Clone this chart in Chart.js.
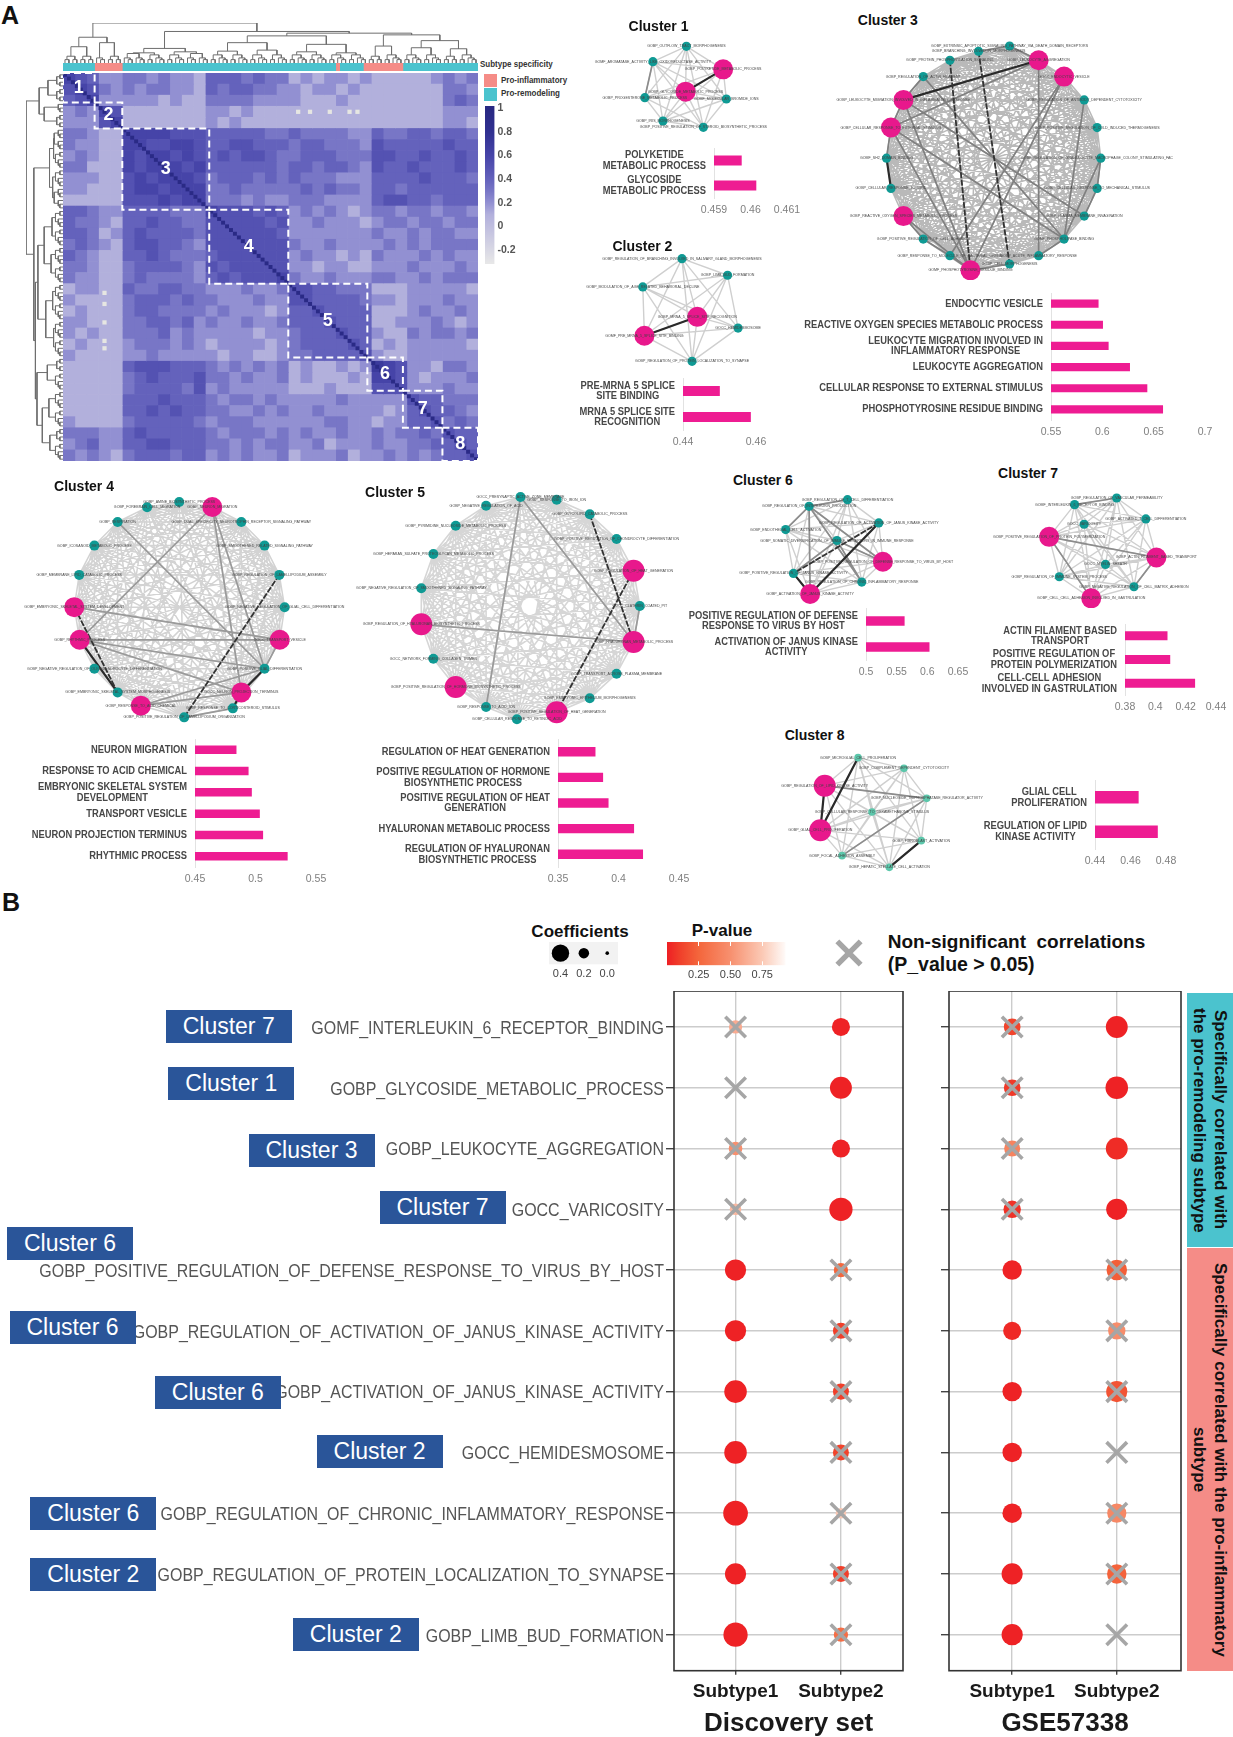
<!DOCTYPE html>
<html>
<head>
<meta charset="utf-8">
<title>Cluster enrichment and subtype correlations</title>
<script src="https://cdn.jsdelivr.net/npm/chart.js@4/dist/chart.umd.js"></script>
<style>
html, body { margin: 0; padding: 0; background: #fff; }
body { position: relative; width: 1233px; height: 1737px; overflow: hidden; font-family: "Liberation Sans", Arial, sans-serif; }
canvas { position: absolute; }
.t { position: absolute; white-space: pre; line-height: 1; }
.box { position: absolute; width: 126px; height: 33px; line-height: 33px; background: #2A5599; color: #fff; font-size: 23px; text-align: center; }
.strip { position: absolute; left: 1187px; width: 46px; writing-mode: vertical-rl; text-align: center; font-weight: bold; font-size: 17px; line-height: 21px; color: #111; display: flex; align-items: center; justify-content: center; }
</style>
</head>
<body>
<script>
// ---- heatmap data: correlations in tenths, 3 x 3 term bins, lower triangle per row, read by eye
const heatRows = [
  "6", "56", "456", "23 26", "22 25 6",
  "332 11 6", "322 11 66", "232 11 656", "331 11 6566", "222 11 56566", "221 11 566566", "111 11 5556566",
  "443 22 4444333 6", "433 21 4454433 55", "443 12 4544443 555", "343 21 4554432 5555", "432 11 4454333 45555", "332 11 3444432 545555", "322 11 3433332 4545556",
  "122 11 4334433 2223223 5", "211 11 3444343 3222322 55", "121 11 3443333 2322212 445", "221 11 3344342 3223223 4445", "212 11 3334232 2222122 34445", "121 11 2333232 1222212 344445", "211 11 2232222 2122112 3344445",
  "111 11 4555444 3232323 1211212 7", "111 11 3454445 3323223 1211121 66", "111 11 3444435 2322222 1112111 555",
  "111 11 4445444 3233232 2222322 222 5", "111 11 4454544 3322323 2232222 212 45", "211 11 3444443 2333222 2223322 122 445",
  "333 22 4544444 3233323 2322322 323 343 5", "234 22 4455444 3323233 2231222 322 334 45", "323 21 3444344 2323223 1222312 232 323 445"
];
const binCells = 3;
const clusterSizes = [8, 7, 22, 20, 20, 9, 10, 9];
const paleCells = [[59, 10], [62, 10], [67, 10], [72, 10], [74, 10], [10, 59], [10, 62], [10, 67], [10, 72], [10, 74]];
const annotationCounts = [8, 7, 54, 1, 6, 10, 19];
const annotationTypes = ["Pro-remodeling", "Pro-inflammatory", "Pro-remodeling", "Pro-inflammatory", "Pro-remodeling", "Pro-inflammatory", "Pro-remodeling"];
const colorbarTicks = [1, 0.8, 0.6, 0.4, 0.2, 0, -0.2];
// dendrogram: [height, left, right], a bare number is a small group of leaves
const termTree = [118,
  [76, [48, 4, 4], [60, 3, 4]],
  [93, [43, [30, 6, 5], [33, 5, 6]],
    [88, [80, [60, [35, 5, 5], [38, 5, 5]], [55, [33, 5, 5], [30, 5, 5]]],
      [83, [50, 4, 5], [66, [45, 5, 5], [42, 4, 5]]]]]];
const groupHeights = [0, 0, 10, 15, 20, 24, 28];

// ---- enrichment bars
const c1BarLabels = [["POLYKETIDE", "METABOLIC PROCESS"], ["GLYCOSIDE", "METABOLIC PROCESS"]];
const c1BarValues = [0.45975, 0.46015];
const c1BarTicks = [0.459, 0.46, 0.461];
const c2BarLabels = [["PRE-MRNA 5 SPLICE", "SITE BINDING"], ["MRNA 5 SPLICE SITE", "RECOGNITION"]];
const c2BarValues = [0.45, 0.4585];
const c2BarTicks = [0.44, 0.46];
const c3BarLabels = [["ENDOCYTIC VESICLE"], ["REACTIVE OXYGEN SPECIES METABOLIC PROCESS"], ["LEUKOCYTE MIGRATION INVOLVED IN", "INFLAMMATORY RESPONSE"], ["LEUKOCYTE AGGREGATION"], ["CELLULAR RESPONSE TO EXTERNAL STIMULUS"], ["PHOSPHOTYROSINE RESIDUE BINDING"]];
const c3BarValues = [0.596, 0.6003, 0.6058, 0.6266, 0.6435, 0.6588];
const c3BarTicks = [0.55, 0.6, 0.65, 0.7];
const c4BarLabels = [["NEURON MIGRATION"], ["RESPONSE TO ACID CHEMICAL"], ["EMBRYONIC SKELETAL SYSTEM", "DEVELOPMENT"], ["TRANSPORT VESICLE"], ["NEURON PROJECTION TERMINUS"], ["RHYTHMIC PROCESS"]];
const c4BarValues = [0.484, 0.494, 0.4967, 0.5033, 0.506, 0.5263];
const c4BarTicks = [0.45, 0.5, 0.55];
const c5BarLabels = [["REGULATION OF HEAT GENERATION"], ["POSITIVE REGULATION OF HORMONE", "BIOSYNTHETIC PROCESS"], ["POSITIVE REGULATION OF HEAT", "GENERATION"], ["HYALURONAN METABOLIC PROCESS"], ["REGULATION OF HYALURONAN", "BIOSYNTHETIC PROCESS"]];
const c5BarValues = [0.3807, 0.387, 0.3915, 0.4126, 0.42];
const c5BarTicks = [0.35, 0.4, 0.45];
const c6BarLabels = [["POSITIVE REGULATION OF DEFENSE", "RESPONSE TO VIRUS BY HOST"], ["ACTIVATION OF JANUS KINASE", "ACTIVITY"]];
const c6BarValues = [0.5624, 0.603];
const c6BarTicks = [0.5, 0.55, 0.6, 0.65];
const c7BarLabels = [["ACTIN FILAMENT BASED", "TRANSPORT"], ["POSITIVE REGULATION OF", "PROTEIN POLYMERIZATION"], ["CELL-CELL ADHESION", "INVOLVED IN GASTRULATION"]];
const c7BarValues = [0.4078, 0.4096, 0.426];
const c7BarTicks = [0.38, 0.4, 0.42, 0.44];
const c8BarLabels = [["GLIAL CELL", "PROLIFERATION"], ["REGULATION OF LIPID", "KINASE ACTIVITY"]];
const c8BarValues = [0.4644, 0.4752];
const c8BarTicks = [0.44, 0.46, 0.48];

// ---- networks: node positions, hubs are the pink nodes
// strong edges are [a, b, level]: 1 mid grey, 2 dark, 3 dark dashed
const c1X = [213, 130, 304, 211, 110, 312, 155, 255];
const c1Y = [138, 184, 207, 274, 292, 296, 362, 381];
const c1Names = ["GOBP_OUTFLOW_TRACT_MORPHOGENESIS", "GOMF_AROMATASE_ACTIVITY_LIKE_OXIDOREDUCTASE_ACTIVITY", "GOBP_POLYKETIDE_METABOLIC_PROCESS", "GOBP_GLYCOSIDE_METABOLIC_PROCESS", "GOBP_PROGESTERONE_METABOLIC_PROCESS", "GOMF_MOLECULAR_BROMIDE_IONS", "GOBP_IRIS_MORPHOGENESIS", "GOBP_POSITIVE_REGULATION_OF_STEROID_BIOSYNTHETIC_PROCESS"];
const c1Hubs = [2, 3];
const c1Strong = [[2, 3, 2], [1, 4, 1]];

const c2X = [202, 315, 105, 240, 341, 109, 227];
const c2Y = [775, 825, 860, 950, 984, 1007, 1084];
const c2Names = ["GOBP_REGULATION_OF_BRANCHING_INVOLVED_IN_SALIVARY_GLAND_MORPHOGENESIS", "GOBP_LIMB_BUD_FORMATION", "GOBP_MODULATION_OF_AGE_RELATED_BEHAVIORAL_DECLINE", "GOBP_MRNA_5_SPLICE_SITE_RECOGNITION", "GOCC_HEMIDESMOSOME", "GOMF_PRE_MRNA_5_SPLICE_SITE_BINDING", "GOBP_REGULATION_OF_PROTEIN_LOCALIZATION_TO_SYNAPSE"];
const c2Hubs = [3, 5];
const c2Strong = [[3, 5, 2]];

const c3X = [1015, 1087, 1150, 1200, 1232, 1241, 1232, 1200, 1150, 1087, 1015, 918, 867, 801, 752, 721, 710, 721, 752, 801, 867, 938];
const c3Y = [137, 180, 229, 299, 382, 474, 565, 648, 717, 767, 792, 811, 767, 717, 648, 565, 474, 382, 299, 229, 180, 153];
const c3Names = ["GOBP_EXTRINSIC_APOPTOTIC_SIGNALING_PATHWAY_VIA_DEATH_DOMAIN_RECEPTORS", "GOBP_LEUKOCYTE_AGGREGATION", "GOCC_ENDOCYTIC_VESICLE", "GOBP_REGULATION_OF_ANTIBODY_DEPENDENT_CYTOTOXICITY", "GOBP_POSITIVE_REGULATION_OF_COLD_INDUCED_THERMOGENESIS", "GOBP_REGULATION_OF_GRANULOCYTE_MACROPHAGE_COLONY_STIMULATING_FACTOR", "GOBP_CELLULAR_RESPONSE_TO_MECHANICAL_STIMULUS", "GOBP_PLASMA_MEMBRANE_INVAGINATION", "GOMF_PHOSPHOLIPASE_BINDING", "GOBP_ACUTE_INFLAMMATORY_RESPONSE", "GOBP_CELL_MORPHOGENESIS", "GOMF_PHOSPHOTYROSINE_RESIDUE_BINDING", "GOBP_RESPONSE_TO_MOLECULE_OF_BACTERIAL_ORIGIN", "GOBP_POSITIVE_REGULATION_OF_CELL_ADHESION", "GOBP_REACTIVE_OXYGEN_SPECIES_METABOLIC_PROCESS", "GOBP_CELLULAR_RESPONSE_TO_LIPID", "GOMF_SH2_DOMAIN_BINDING", "GOBP_CELLULAR_RESPONSE_TO_EXTERNAL_STIMULUS", "GOBP_LEUKOCYTE_MIGRATION_INVOLVED_IN_INFLAMMATORY_RESPONSE", "GOBP_REGULATION_OF_ACTIN_FILAMENT", "GOBP_PROTEIN_PHOSPHORYLATION_SIGNALING", "GOBP_BRANCHING_INVOLVED_IN_MORPHOGENESIS"];
const c3Hubs = [1, 2, 11, 14, 17, 18];
const c3Strong = [[1, 18, 2], [16, 15, 2], [20, 11, 3], [21, 10, 3], [11, 10, 1], [1, 9, 1], [2, 12, 1], [1, 17, 1], [5, 8, 1], [18, 11, 1], [17, 11, 1], [14, 11, 1], [3, 8, 1], [2, 11, 1], [8, 9, 1], [5, 6, 1], [6, 7, 1], [0, 21, 1], [0, 1, 1], [19, 18, 1], [18, 17, 1], [17, 16, 1], [14, 13, 1], [13, 12, 1], [12, 11, 1], [17, 8, 1], [18, 7, 1], [19, 8, 1]];

const c4X = [475, 540, 592, 625, 637, 626, 592, 540, 521, 412, 315, 263, 211, 178, 166, 177, 211, 263, 329, 401];
const c4Y = [112, 157, 228, 316, 413, 511, 598, 669, 717, 744, 709, 669, 598, 511, 413, 316, 228, 157, 113, 97];
const c4Names = ["GOBP_NEURON_MIGRATION", "GOBP_DUAL_SPECIFICITY_NEUROTROPHIN_RECEPTOR_SIGNALING_PATHWAY", "GOBP_SMOOTHENED_RELATED_SIGNALING_PATHWAY", "GOBP_REGULATION_OF_LAMELLIPODIUM_ASSEMBLY", "GOBP_NEGATIVE_REGULATION_OF_GLIAL_CELL_DIFFERENTIATION", "GOCC_TRANSPORT_VESICLE", "GOBP_POSITIVE_GLIAL_DIFFERENTIATION", "GOCC_NEURON_PROJECTION_TERMINUS", "GOBP_RESPONSE_TO_CORTICOSTEROID_STIMULUS", "GOBP_POSITIVE_REGULATION_OF_LAMELLIPODIUM_ORGANIZATION", "GOBP_RESPONSE_TO_ACID_CHEMICAL", "GOBP_EMBRYONIC_SKELETAL_SYSTEM_MORPHOGENESIS", "GOBP_NEGATIVE_REGULATION_OF_OLIGODENDROCYTE_DIFFERENTIATION", "GOBP_RHYTHMIC_PROCESS", "GOBP_EMBRYONIC_SKELETAL_SYSTEM_DEVELOPMENT", "GOBP_MEMBRANE_LIPID_CATABOLIC_PROCESS", "GOBP_ICOSANOID_METABOLIC_PROCESS", "GOBP_RESPIRATION", "GOBP_FOREBRAIN_CELL_MIGRATION", "GOBP_AMINE_BIOSYNTHETIC_PROCESS"];
const c4Hubs = [0, 5, 7, 10, 13, 14];
const c4Strong = [[0, 13, 1], [0, 7, 1], [0, 6, 1], [3, 9, 3], [14, 11, 3], [13, 11, 2], [13, 6, 1], [13, 5, 1], [14, 5, 1], [13, 7, 1], [17, 6, 1], [10, 6, 1], [6, 7, 2], [7, 8, 2], [10, 7, 1], [9, 8, 1], [5, 6, 1]];

const c5X = [1165, 1246, 1320, 1380, 1418, 1432, 1418, 1380, 1320, 1246, 1157, 1088, 1020, 970, 943, 943, 970, 1020, 1088];
const c5Y = [81, 89, 133, 207, 302, 408, 516, 611, 685, 727, 748, 711, 651, 566, 463, 355, 252, 167, 107];
const c5Names = ["GOCC_PRESYNAPTIC_ACTIVE_ZONE_MEMBRANE", "GOBP_RESPONSE_TO_IRON_ION", "GOBP_GLYCOLIPID_CATABOLIC_PROCESS", "GOBP_POSITIVE_REGULATION_OF_CHONDROCYTE_DIFFERENTIATION", "GOBP_REGULATION_OF_HEAT_GENERATION", "GOCC_CLATHRIN_COATED_PIT", "GOBP_HYALURONAN_METABOLIC_PROCESS", "GOBP_TRANSPORT_ACROSS_PLASMA_MEMBRANE", "GOBP_EMBRYONIC_EPITHELIUM_MORPHOGENESIS", "GOBP_POSITIVE_REGULATION_OF_HEAT_GENERATION", "GOBP_CELLULAR_RESPONSE_TO_RETINOIC_ACID", "GOBP_RESPONSE_TO_ACID_ION", "GOBP_POSITIVE_REGULATION_OF_HORMONE_BIOSYNTHETIC_PROCESS", "GOCC_NETWORK_FORMING_COLLAGEN_TRIMER", "GOBP_REGULATION_OF_HYALURONAN_BIOSYNTHETIC_PROCESS", "GOBP_NEGATIVE_REGULATION_OF_SMOOTHENED_SIGNALING_PATHWAY", "GOBP_HEPARAN_SULFATE_PROTEOGLYCAN_METABOLIC_PROCESS", "GOBP_PYRIMIDINE_NUCLEOSIDE_METABOLIC_PROCESS", "GOBP_NEGATIVE_REGULATION_OF_ACID"];
const c5Hubs = [4, 6, 9, 12, 14];
const c5Strong = [[0, 11, 1], [0, 6, 1], [2, 6, 3], [4, 9, 3], [14, 6, 1], [5, 6, 1]];

const c6X = [322, 435, 527, 253, 404, 539, 276, 477, 325];
const c6Y = [138, 118, 188, 208, 241, 305, 340, 366, 402];
const c6Names = ["GOBP_REGULATION_OF_INTERLEUKIN_PRODUCTION", "GOBP_REGULATION_OF_T_CELL_DIFFERENTIATION", "GOBP_REGULATION_OF_ACTIVATION_OF_JANUS_KINASE_ACTIVITY", "GOBP_ENDOTHELIAL_CELL_ACTIVATION", "GOBP_SOMATIC_DIVERSIFICATION_OF_IMMUNE_RECEPTORS_IN_IMMUNE_RESPONSE", "GOBP_POSITIVE_REGULATION_OF_DEFENSE_RESPONSE_TO_VIRUS_BY_HOST", "GOBP_POSITIVE_REGULATION_OF_JANUS_KINASE_ACTIVITY", "GOBP_REGULATION_OF_CHRONIC_INFLAMMATORY_RESPONSE", "GOBP_ACTIVATION_OF_JANUS_KINASE_ACTIVITY"];
const c6Hubs = [5, 8];
const c6Strong = [[2, 6, 3], [2, 8, 2], [6, 8, 2], [0, 7, 1], [0, 5, 1], [0, 8, 1], [1, 0, 1], [3, 0, 1], [4, 5, 1], [4, 7, 1], [6, 4, 1]];

const c7X = [1225, 1101, 1311, 1129, 1026, 1342, 1192, 1056, 1276, 1150];
const c7Y = [114, 134, 177, 193, 231, 293, 314, 351, 381, 416];
const c7Names = ["GOBP_REGULATION_OF_VASCULAR_PERMEABILITY", "GOMF_INTERLEUKIN_6_RECEPTOR_BINDING", "GOBP_ACTIVATED_T_CELL_DIFFERENTIATION", "GOCC_VARICOSITY", "GOBP_POSITIVE_REGULATION_OF_PROTEIN_POLYMERIZATION", "GOBP_ACTIN_FILAMENT_BASED_TRANSPORT", "GOCC_MYELIN_SHEATH", "GOBP_REGULATION_OF_IMMUNE_SYSTEM_PROCESS", "GOBP_NEGATIVE_REGULATION_OF_CELL_MATRIX_ADHESION", "GOBP_CELL_CELL_ADHESION_INVOLVED_IN_GASTRULATION"];
const c7Hubs = [4, 5, 9];
const c7Strong = [[4, 5, 1], [4, 9, 1], [5, 8, 1], [1, 0, 1]];

const c8X = [466, 601, 368, 668, 507, 355, 652, 419, 558];
const c8Y = [893, 925, 977, 1015, 1056, 1111, 1142, 1187, 1222];
const c8Names = ["GOBP_MICROGLIAL_CELL_PROLIFERATION", "GOBP_COMPLEMENT_DEPENDENT_CYTOTOXICITY", "GOBP_REGULATION_OF_LIPID_KINASE_ACTIVITY", "GOBP_NUCLEOSIDE_TRIPHOSPHATASE_REGULATOR_ACTIVITY", "GOBP_CELLULAR_RESPONSE_TO_DEXAMETHASONE_STIMULUS", "GOBP_GLIAL_CELL_PROLIFERATION", "GOBP_FIBROBLAST_ACTIVATION", "GOBP_FOCAL_ADHESION_ASSEMBLY", "GOBP_HEPATIC_STELLATE_CELL_ACTIVATION"];
const c8Hubs = [2, 5];
const c8Strong = [[6, 8, 2], [2, 5, 2], [0, 5, 2], [2, 3, 1], [3, 7, 1]];

// ---- dot plots
const terms = ["GOMF_INTERLEUKIN_6_RECEPTOR_BINDING", "GOBP_GLYCOSIDE_METABOLIC_PROCESS", "GOBP_LEUKOCYTE_AGGREGATION", "GOCC_VARICOSITY", "GOBP_POSITIVE_REGULATION_OF_DEFENSE_RESPONSE_TO_VIRUS_BY_HOST", "GOBP_REGULATION_OF_ACTIVATION_OF_JANUS_KINASE_ACTIVITY", "GOBP_ACTIVATION_OF_JANUS_KINASE_ACTIVITY", "GOCC_HEMIDESMOSOME", "GOBP_REGULATION_OF_CHRONIC_INFLAMMATORY_RESPONSE", "GOBP_REGULATION_OF_PROTEIN_LOCALIZATION_TO_SYNAPSE", "GOBP_LIMB_BUD_FORMATION"];
const termClusters = ["Cluster 7", "Cluster 1", "Cluster 3", "Cluster 7", "Cluster 6", "Cluster 6", "Cluster 6", "Cluster 2", "Cluster 6", "Cluster 2", "Cluster 2"];
const subtypes = ["Subtype1", "Subtype2"];
const discoveryS1Coef = [0.28, 0, 0.29, 0.23, 0.51, 0.51, 0.55, 0.55, 0.61, 0.51, 0.6];
const discoveryS1P = [0.62, 0.95, 0.5, 0.68, 0.01, 0.01, 0.01, 0.01, 0.01, 0.01, 0.01];
const discoveryS2Coef = [0.42, 0.53, 0.42, 0.57, 0.31, 0.36, 0.36, 0.36, 0.2, 0.36, 0.31];
const discoveryS2P = [0.01, 0.01, 0.01, 0.01, 0.25, 0.1, 0.1, 0.12, 0.75, 0.1, 0.3];
const gseS1Coef = [0.38, 0.38, 0.36, 0.4, 0.46, 0.42, 0.46, 0.46, 0.46, 0.51, 0.51];
const gseS1P = [0.12, 0.08, 0.42, 0.06, 0.01, 0.03, 0.01, 0.01, 0.01, 0.01, 0.01];
const gseS2Coef = [0.53, 0.55, 0.53, 0.51, 0.49, 0.4, 0.51, 0, 0.45, 0.46, 0];
const gseS2P = [0.01, 0.01, 0.04, 0.01, 0.22, 0.48, 0.18, 0.95, 0.45, 0.24, 0.95];
const coefLegend = [0.4, 0.2, 0];
const pLegendTicks = [0.25, 0.5, 0.75];
const pThreshold = 0.05;

const PINK = "#EE1C92", TEAL = "#0F9A94", SANS = '"Liberation Sans", Arial, sans-serif';
Chart.defaults.animation = false;
Chart.defaults.responsive = false;
Chart.defaults.font.family = SANS;
Chart.defaults.layout.autoPadding = false;
Chart.defaults.plugins.legend.display = false;
Chart.defaults.plugins.tooltip.enabled = false;

function addCanvas(left, top, w, h) {
  const c = document.createElement("canvas");
  c.width = Math.round(w);
  c.height = Math.round(h);
  c.style.left = Math.round(left) + "px";
  c.style.top = Math.round(top) + "px";
  document.body.appendChild(c);
  return c;
}
function addText(text, x, y, size, opts) {
  const o = opts || {};
  const d = document.createElement("div");
  d.className = "t";
  d.textContent = text;
  d.style.left = x + "px";
  d.style.top = y + "px";
  d.style.fontSize = size + "px";
  d.style.fontWeight = o.weight || "bold";
  d.style.color = o.color || "#111";
  d.style.transformOrigin = "left center";
  d.style.transform = o.left ? "translateY(-50%) scaleX(" + (o.k || 1) + ")" : "translate(-50%,-50%)";
  document.body.appendChild(d);
}
function mix(stops, v) {
  if (v <= stops[0][0]) return stops[0][1];
  for (let i = 1; i < stops.length; i++) {
    if (v <= stops[i][0]) {
      const a = stops[i - 1], b = stops[i], f = (v - a[0]) / (b[0] - a[0]);
      const ch = k => Math.round(a[1][k] + (b[1][k] - a[1][k]) * f);
      return [ch(0), ch(1), ch(2)];
    }
  }
  return stops[stops.length - 1][1];
}
const heatStops = [[-0.32, [232, 232, 232]], [0.1, [178, 176, 220]], [0.2, [146, 144, 210]], [0.3, [120, 118, 198]], [0.4, [100, 98, 188]], [0.5, [84, 82, 178]], [0.6, [70, 68, 168]], [0.8, [48, 48, 144]], [1, [40, 40, 130]]];
const pStops = [[0, [238, 31, 36]], [0.1, [240, 63, 42]], [0.25, [244, 102, 60]], [0.5, [247, 144, 111]], [0.75, [251, 201, 181]], [0.95, [255, 255, 255]]];
const rgb = c => "rgb(" + c.join(",") + ")";
const heatColor = v => rgb(mix(heatStops, v));
const pColor = p => rgb(mix(pStops, p));
const coefRadius = c => 1.8 + 17.25 * c;

function gradientFill(chart, axis, stops, from, to) {
  const s = chart.scales[axis];
  const p0 = s.getPixelForValue(from), p1 = s.getPixelForValue(to);
  const g = axis === "x" ? chart.ctx.createLinearGradient(p0, 0, p1, 0) : chart.ctx.createLinearGradient(0, p0, 0, p1);
  stops.forEach(st => g.addColorStop((st[0] - from) / (to - from), rgb(st[1])));
  return g;
}
// keep the plot box where it was set, labels may hang over its edges
function noMargins(s) {
  s.paddingLeft = 0; s.paddingRight = 0; s.paddingTop = 0; s.paddingBottom = 0;
}
// inline plugins
function notesPlugin(items, font, color) {
  return {
    id: "notes",
    afterDatasetsDraw(chart) {
      const ctx = chart.ctx;
      ctx.save();
      ctx.font = font;
      ctx.fillStyle = color;
      ctx.textAlign = "center";
      ctx.textBaseline = "middle";
      items.forEach(n => ctx.fillText(n.text, chart.scales.x.getPixelForValue(n.x), chart.scales.y.getPixelForValue(n.y)));
      ctx.restore();
    }
  };
}
function framePlugin(stroke, fill) {
  return {
    id: "frame",
    beforeDatasetsDraw(chart) {
      if (!fill) return;
      const a = chart.chartArea;
      chart.ctx.fillStyle = fill;
      chart.ctx.fillRect(a.left, a.top, a.width, a.height);
    },
    afterDatasetsDraw(chart) {
      if (!stroke) return;
      const a = chart.chartArea;
      chart.ctx.strokeStyle = stroke;
      chart.ctx.lineWidth = 1.6;
      chart.ctx.strokeRect(a.left, a.top, a.width, a.height);
    }
  };
}
// axis labels that are squeezed sideways, several lines centred on each other
function blockLabelsPlugin(labels, o) {
  return {
    id: "blockLabels",
    afterDraw(chart) {
      const ctx = chart.ctx, s = chart.scales.y;
      ctx.save();
      ctx.font = o.font;
      ctx.fillStyle = o.color;
      ctx.textAlign = "center";
      ctx.textBaseline = "middle";
      labels.forEach((lines, i) => {
        const w = Math.max(...lines.map(l => ctx.measureText(l).width)) * o.k;
        const cx = chart.chartArea.left - o.gap - w / 2;
        const y0 = s.getPixelForValue(i) - (lines.length - 1) * o.lineH / 2 + (o.dy || 0);
        lines.forEach((l, k) => {
          ctx.save();
          ctx.translate(cx, y0 + k * o.lineH);
          ctx.scale(o.k, 1);
          ctx.fillText(l, 0, 0);
          ctx.restore();
        });
      });
      ctx.restore();
    }
  };
}

// ---- panel A heatmap
const heatLeft = 63.1, heatTop = 73.3, heatW = 414.5, heatH = 387.7, cellCount = 105;
const heatMatrix = heatRows.map(r => r.replace(/ /g, "").split("").map(d => +d / 10));
const heatValue = (r, c) => (c <= r ? heatMatrix[r][c] : heatMatrix[c][r]);

new Chart(addCanvas(heatLeft, heatTop, heatW, heatH), {
  type: "bar",
  data: {
    labels: heatMatrix.map((_, i) => i),
    datasets: heatMatrix.map((_, c) => ({
      data: heatMatrix.map(() => binCells),
      backgroundColor: heatMatrix.map((_, r) => heatColor(heatValue(r, c))),
      barPercentage: 1, categoryPercentage: 1, borderWidth: 0
    }))
  },
  options: {
    indexAxis: "y",
    layout: { padding: 0 },
    scales: {
      x: { display: false, stacked: true, min: 0, max: cellCount },
      y: { display: false, stacked: true }
    }
  }
});

const clusterStarts = clusterSizes.map((_, i) => clusterSizes.slice(0, i).reduce((a, b) => a + b, 0));
const diagonalCells = Array.from({ length: cellCount }, (_, i) => ({ x: i + 0.5, y: i + 0.5 }));
new Chart(addCanvas(heatLeft, heatTop, heatW, heatH), {
  type: "scatter",
  data: {
    datasets: clusterSizes.map((n, i) => {
      const s = clusterStarts[i], e = s + n;
      return {
        data: [{ x: s, y: s }, { x: e, y: s }, { x: e, y: e }, { x: s, y: e }, { x: s, y: s }],
        showLine: true, borderColor: "#fff", borderWidth: 2, borderDash: [7, 4], pointRadius: 0, clip: false
      };
    }).concat([
      { data: diagonalCells, pointStyle: "rect", pointRadius: 2.8, backgroundColor: "#2A2A86", borderWidth: 0 },
      { data: paleCells.map(p => ({ x: p[1] + 0.5, y: p[0] + 0.5 })), pointStyle: "rect", pointRadius: 3, backgroundColor: "#E6E6E2", borderWidth: 0 }
    ])
  },
  options: {
    layout: { padding: 0 },
    scales: {
      x: { display: false, min: 0, max: cellCount },
      y: { display: false, min: 0, max: cellCount, reverse: true }
    }
  },
  plugins: [notesPlugin(clusterSizes.map((n, i) => ({ x: clusterStarts[i] + n / 2, y: clusterStarts[i] + n / 2, text: String(i + 1) })), "bold 18px 'Liberation Sans'", "#fff")]
});

// subtype strip above the heatmap
const subtypeColors = { "Pro-inflammatory": "#F58C87", "Pro-remodeling": "#4BC3CE" };
new Chart(addCanvas(heatLeft, 62.7, heatW, 8.4), {
  type: "bar",
  data: {
    labels: ["subtype"],
    datasets: annotationCounts.map((n, i) => ({ data: [n], backgroundColor: subtypeColors[annotationTypes[i]], barPercentage: 1, categoryPercentage: 1 }))
  },
  options: {
    indexAxis: "y",
    layout: { padding: 0 },
    scales: { x: { display: false, stacked: true, min: 0, max: cellCount }, y: { display: false, stacked: true } }
  }
});

// dendrograms share one tree, top and left
function treePath(node, start, path) {
  let kids;
  if (typeof node === "number") {
    if (node === 1) return { pos: start + 0.5, h: 0, next: start + 1 };
    const half = Math.floor(node / 2);
    kids = [groupHeights[node], half, node - half];
  } else kids = node;
  const a = treePath(kids[1], start, path), b = treePath(kids[2], a.next, path), h = kids[0];
  path.push([a.pos, a.h], [a.pos, h], [b.pos, h], [b.pos, b.h], [NaN, NaN]);
  return { pos: (a.pos + b.pos) / 2, h, next: b.next };
}
const treePoints = [];
treePath(termTree, 0, treePoints);
const treeScales = (flip) => flip
  ? { x: { display: false, min: 0, max: 118, reverse: true }, y: { display: false, min: 0, max: cellCount, reverse: true } }
  : { x: { display: false, min: 0, max: cellCount }, y: { display: false, min: 0, max: 118 } };
function dendrogram(left, top, w, h, flip) {
  new Chart(addCanvas(left, top, w, h), {
    type: "scatter",
    data: { datasets: [{ data: treePoints.map(p => (flip ? { x: p[1], y: p[0] } : { x: p[0], y: p[1] })), showLine: true, spanGaps: false, borderColor: "#6E6E6E", borderWidth: 1, pointRadius: 0 }] },
    options: { layout: { padding: 0 }, scales: treeScales(flip) }
  });
}
dendrogram(heatLeft, 23, heatW, 39.7, false);
dendrogram(26, heatTop, 37.1, heatH, true);

// colour bar
new Chart(addCanvas(484.5, 100, 45, 170), {
  type: "bar",
  data: {
    labels: ["r"],
    datasets: [{
      data: [[-0.319, 1.02]],
      backgroundColor: c => c.chart.chartArea ? gradientFill(c.chart, "y", heatStops, -0.32, 1) : "#88f",
      barPercentage: 1, categoryPercentage: 1
    }]
  },
  options: {
    layout: { padding: { top: 6, bottom: 6 } },
    scales: {
      x: { display: false },
      y: {
        position: "right", min: -0.319, max: 1.02, grid: { display: false, drawTicks: false }, border: { display: false },
        afterFit(s) { s.width = 35.5; noMargins(s); },
        afterBuildTicks(s) { s.ticks = colorbarTicks.map(v => ({ value: v })); },
        ticks: { autoSkip: false, padding: 3, color: "#555", font: { size: 10.5, weight: "bold" }, callback: v => String(v) }
      }
    }
  }
});
addText("Subtype specificity", 480, 63.7, 9.5, { left: true, color: "#333", k: 0.84 });
addText("Pro-inflammatory", 500.6, 80, 9.5, { left: true, color: "#333", k: 0.84 });
addText("Pro-remodeling", 500.6, 93.3, 9.5, { left: true, color: "#333", k: 0.84 });
[["Pro-inflammatory", 74], ["Pro-remodeling", 88]].forEach(s => {
  const d = document.createElement("div");
  d.style.cssText = "position:absolute;left:484px;width:13px;height:13.3px;top:" + s[1] + "px;background:" + subtypeColors[s[0]];
  document.body.appendChild(d);
});

// ---- networks
function networkChart(n) {
  const fx = n.cropW / 1568;
  const left = n.cropX + n.view[0] * fx, top = n.cropY + n.view[2] / 3;
  const w = (n.view[1] - n.view[0]) * fx, h = (n.view[3] - n.view[2]) / 3;
  const pts = (pairs) => {
    const out = [];
    pairs.forEach(p => out.push({ x: n.xs[p[0]], y: n.ys[p[0]] }, { x: n.xs[p[1]], y: n.ys[p[1]] }, { x: NaN, y: NaN }));
    return out;
  };
  const all = [];
  n.xs.forEach((_, i) => n.xs.forEach((_, j) => { if (j > i) all.push([i, j]); }));
  const level = k => n.strong.filter(e => e[2] === k);
  const line = (pairs, color, width, dash) => ({ data: pts(pairs), showLine: true, spanGaps: false, borderColor: color, borderWidth: width, borderDash: dash || [], pointRadius: 0 });
  new Chart(addCanvas(left, top, w, h), {
    type: "scatter",
    data: {
      datasets: [
        {
          data: n.xs.map((x, i) => ({ x, y: n.ys[i] })),
          pointRadius: n.xs.map((_, i) => (n.hubs.includes(i) ? n.hubR : n.nodeR)),
          backgroundColor: n.xs.map((_, i) => (n.hubs.includes(i) ? "#E8188C" : n.teal)),
          borderWidth: 0
        },
        line(level(3), "#333", 1.8, [6, 1.5]),
        line(level(2), "#2A2A2A", 2.2),
        line(level(1), n.mid, 1.7),
        line(all, n.base, n.baseW)
      ]
    },
    options: {
      layout: { padding: 0 },
      scales: {
        x: { display: false, min: n.view[0], max: n.view[1] },
        y: { display: false, min: n.view[2], max: n.view[3], reverse: true }
      }
    },
    plugins: [notesPlugin(n.names.map((t, i) => ({ x: n.xs[i], y: n.ys[i], text: t })), "3.6px 'Liberation Sans'", "#444")]
  });
}
const smallNet = { hubR: 10, nodeR: 4.6, teal: TEAL, base: "#CFCFCF", baseW: 1.4, mid: "#8C8C8C" };
networkChart({ ...smallNet, xs: c1X, ys: c1Y, names: c1Names, hubs: c1Hubs, strong: c1Strong, cropX: 600, cropY: 0, cropW: 633, view: [-110, 430, 110, 410] });
networkChart({ ...smallNet, xs: c2X, ys: c2Y, names: c2Names, hubs: c2Hubs, strong: c2Strong, cropX: 600, cropY: 0, cropW: 633, view: [-110, 430, 755, 1110] });
networkChart({ ...smallNet, base: "#B9B9B9", baseW: 1.5, mid: "#808080", xs: c3X, ys: c3Y, names: c3Names, hubs: c3Hubs, strong: c3Strong, cropX: 600, cropY: 0, cropW: 633, view: [560, 1420, 110, 840] });
networkChart({ ...smallNet, base: "#D3D3D3", baseW: 1.5, nodeR: 5, mid: "#9A9A9A", xs: c4X, ys: c4Y, names: c4Names, hubs: c4Hubs, strong: c4Strong, cropX: 0, cropY: 470, cropW: 700, view: [40, 790, 70, 770] });
networkChart({ ...smallNet, base: "#D6D6D6", baseW: 1.6, nodeR: 5, hubR: 11, mid: "#9A9A9A", xs: c5X, ys: c5Y, names: c5Names, hubs: c5Hubs, strong: c5Strong, cropX: 0, cropY: 470, cropW: 700, view: [770, 1560, 60, 780] });
networkChart({ ...smallNet, xs: c6X, ys: c6Y, names: c6Names, hubs: c6Hubs, strong: c6Strong, cropX: 700, cropY: 460, cropW: 533, view: [60, 760, 95, 435] });
networkChart({ ...smallNet, xs: c7X, ys: c7Y, names: c7Names, hubs: c7Hubs, strong: c7Strong, cropX: 700, cropY: 460, cropW: 533, view: [840, 1500, 90, 445] });
networkChart({ ...smallNet, hubR: 11, nodeR: 3.8, teal: "#5CC7AB", xs: c8X, ys: c8Y, names: c8Names, hubs: c8Hubs, strong: c8Strong, cropX: 700, cropY: 460, cropW: 533, view: [210, 860, 870, 1245] });

[["Cluster 1", 658.5, 26], ["Cluster 3", 887.8, 20], ["Cluster 2", 642.4, 245.7], ["Cluster 4", 84, 485.7], ["Cluster 5", 395, 491.7], ["Cluster 6", 762.9, 480], ["Cluster 7", 1028, 473.3], ["Cluster 8", 814.6, 735]]
  .forEach(t => addText(t[0], t[1], t[2], 14));
addText("A", 10, 15, 25);
addText("B", 11, 902, 25);

// ---- enrichment bar panels
function barPanel(p) {
  const yW = Math.min(Math.round(p.axisX), 262), xH = 24, pad = 24;
  const plotW = p.endX - p.axisX, plotH = p.bottom - p.top;
  new Chart(addCanvas(p.axisX - yW, p.top, yW + plotW + pad, plotH + xH), {
    type: "bar",
    data: {
      labels: p.labels.map(l => l.join(" ")),
      datasets: [{ data: p.values, backgroundColor: PINK, barThickness: p.barH }]
    },
    options: {
      indexAxis: "y",
      layout: { padding: { right: pad } },
      scales: {
        x: {
          min: p.ticks[0], max: p.ticks[p.ticks.length - 1], grid: { display: false, drawTicks: false }, border: { display: false },
          afterFit(s) { s.height = xH; noMargins(s); },
          afterBuildTicks(s) { s.ticks = p.ticks.map(v => ({ value: v })); },
          ticks: { autoSkip: false, maxRotation: 0, padding: 6, color: "#7F7F7F", font: { size: 10.5 }, callback: v => String(v) }
        },
        y: {
          grid: { display: false, drawTicks: false }, border: { display: true, color: "#E2E2E2", width: 1 },
          ticks: { display: false },
          afterFit(s) { s.width = yW; noMargins(s); }
        }
      }
    },
    plugins: [blockLabelsPlugin(p.labels, { lineH: 10.7, font: "bold 11px " + SANS, color: "#474747", gap: 8, k: 0.85 })]
  });
}
barPanel({ labels: c1BarLabels, values: c1BarValues, ticks: c1BarTicks, axisX: 713.8, endX: 786.9, top: 148, bottom: 198, barH: 9.3 });
barPanel({ labels: c2BarLabels, values: c2BarValues, ticks: c2BarTicks, axisX: 683.2, endX: 756.2, top: 378, bottom: 430, barH: 9.3 });
barPanel({ labels: c3BarLabels, values: c3BarValues, ticks: c3BarTicks, axisX: 1051.3, endX: 1205.5, top: 292.7, bottom: 420, barH: 7.5 });
barPanel({ labels: c4BarLabels, values: c4BarValues, ticks: c4BarTicks, axisX: 195.1, endX: 315.7, top: 738.7, bottom: 866.5, barH: 7.8 });
barPanel({ labels: c5BarLabels, values: c5BarValues, ticks: c5BarTicks, axisX: 558, endX: 678.6, top: 739, bottom: 866.5, barH: 8.7 });
barPanel({ labels: c6BarLabels, values: c6BarValues, ticks: c6BarTicks, axisX: 865.9, endX: 957.4, top: 607.7, bottom: 659.7, barH: 8.7 });
barPanel({ labels: c7BarLabels, values: c7BarValues, ticks: c7BarTicks, axisX: 1125, endX: 1216.2, top: 623.8, bottom: 695.2, barH: 8.4 });
barPanel({ labels: c8BarLabels, values: c8BarValues, ticks: c8BarTicks, axisX: 1094.7, endX: 1166.1, top: 780, bottom: 849, barH: 12 });

// ---- panel B dot plots
function dotPanel(p) {
  const yW = Math.round(p.axisLeft - p.canvasLeft), plotW = p.axisRight - p.axisLeft;
  const rows = terms.map((_, i) => i);
  const cols = [p.s1Coef, p.s2Coef], ps = [p.s1P, p.s2P];
  const dots = [], crosses = [];
  cols.forEach((coef, c) => rows.forEach(r => {
    dots.push({ x: c, y: r, r: coefRadius(coef[r]), p: ps[c][r] });
    if (ps[c][r] > pThreshold) crosses.push({ x: c, y: r });
  }));
  const plugins = [framePlugin("#333")];
  if (p.showTerms) plugins.push(blockLabelsPlugin(terms.map(t => [t]), { lineH: 0, font: "17.5px " + SANS, color: "#555", gap: 10, k: 0.912, dy: 2 }));
  new Chart(addCanvas(p.canvasLeft, 990.7, yW + plotW + 2, 1737 - 990.7), {
    type: "scatter",
    data: {
      datasets: [
        { data: crosses, pointStyle: "crossRot", pointRadius: 14.5, borderColor: "#A6A6A6", borderWidth: 3.6, backgroundColor: "#A6A6A6" },
        { data: dots, pointRadius: dots.map(d => d.r), backgroundColor: dots.map(d => pColor(d.p)), borderWidth: 0 }
      ]
    },
    options: {
      layout: { padding: { right: 2 } },
      scales: {
        x: {
          min: p.xMin, max: p.xMax,
          grid: { color: "#CCCCCC", lineWidth: 1.4, tickColor: "#444", tickLength: 4 },
          border: { display: false },
          afterFit(s) { s.height = 66.3; noMargins(s); },
          afterBuildTicks(s) { s.ticks = subtypes.map((_, i) => ({ value: i })); },
          ticks: { autoSkip: false, maxRotation: 0, padding: 6, color: "#1A1A1A", font: { size: 19, weight: "bold" }, callback: v => subtypes[v] },
          title: { display: true, text: p.title, color: "#1A1A1A", font: { size: 26, weight: "bold", lineHeight: 1 }, padding: 0 }
        },
        y: {
          min: -0.592, max: 10.592, reverse: true,
          grid: { color: "#CCCCCC", lineWidth: 1.4, tickColor: "#444", tickLength: 8 },
          border: { display: false },
          afterFit(s) { s.width = yW; noMargins(s); },
          afterBuildTicks(s) { s.ticks = rows.map(v => ({ value: v })); },
          ticks: { autoSkip: false, display: false }
        }
      }
    },
    plugins
  });
}
dotPanel({ title: "Discovery set", showTerms: true, canvasLeft: 0, axisLeft: 674, axisRight: 903, xMin: -0.584, xMax: 1.589, s1Coef: discoveryS1Coef, s1P: discoveryS1P, s2Coef: discoveryS2Coef, s2P: discoveryS2P });
dotPanel({ title: "GSE57338", showTerms: false, canvasLeft: 940, axisLeft: 949, axisRight: 1181, xMin: -0.604, xMax: 1.614, s1Coef: gseS1Coef, s1P: gseS1P, s2Coef: gseS2Coef, s2P: gseS2P });

// cluster tags beside the term names
const tagLeft = [165.7, 168.3, 248.5, 379.5, 7, 9.5, 154.8, 316.6, 30.4, 30.4, 292.8];
const tagTop = [1010, 1067.3, 1134, 1191.3, 1226.7, 1311.3, 1376, 1435.3, 1497.3, 1558, 1618];
termClusters.forEach((t, i) => {
  const d = document.createElement("div");
  d.className = "box";
  d.textContent = t;
  d.style.left = tagLeft[i] + "px";
  d.style.top = tagTop[i] + "px";
  document.body.appendChild(d);
});

// coefficient legend
new Chart(addCanvas(548.6, 941.7, 69.4, 42), {
  type: "scatter",
  data: { datasets: [{ data: coefLegend.map((c, i) => ({ x: i, y: 0 })), pointRadius: coefLegend.map(coefRadius), backgroundColor: "#000", borderWidth: 0 }] },
  options: {
    layout: { padding: 0 },
    scales: {
      x: {
        min: -0.49, max: 2.46, grid: { display: false, drawTicks: false }, border: { display: false },
        afterFit(s) { s.height = 19.7; noMargins(s); },
        afterBuildTicks(s) { s.ticks = coefLegend.map((_, i) => ({ value: i })); },
        ticks: { autoSkip: false, maxRotation: 0, padding: 3, color: "#444", font: { size: 11 }, callback: v => coefLegend[v].toFixed(1) }
      },
      y: { display: false, min: -1, max: 1 }
    }
  },
  plugins: [framePlugin(null, "#F2F2F2")]
});
addText("Coefficients", 580, 930.7, 17);

// p-value legend
new Chart(addCanvas(667, 941.7, 140, 42), {
  type: "bar",
  data: {
    labels: ["p"],
    datasets: [{
      data: [[0, 0.93]],
      backgroundColor: c => c.chart.chartArea ? gradientFill(c.chart, "x", pStops, 0, 0.95) : "#f44",
      barPercentage: 1, categoryPercentage: 1
    }]
  },
  options: {
    indexAxis: "y",
    layout: { padding: { right: 13 } },
    scales: {
      x: {
        min: 0, max: 1,
        grid: { color: "#fff", z: 1, lineWidth: 1, drawTicks: false },
        border: { display: false, dash: [4, 15.3] },
        afterFit(s) { s.height = 18.7; noMargins(s); },
        afterBuildTicks(s) { s.ticks = pLegendTicks.map(v => ({ value: v })); },
        ticks: { autoSkip: false, maxRotation: 0, padding: 3, color: "#444", font: { size: 11 }, callback: v => v.toFixed(2) }
      },
      y: { display: false }
    }
  }
});
addText("P-value", 722, 930, 17);

// non-significant marker
new Chart(addCanvas(830, 934, 38, 38), {
  type: "scatter",
  data: { datasets: [{ data: [{ x: 0, y: 0 }], pointStyle: "crossRot", pointRadius: 16.5, borderColor: "#A6A6A6", backgroundColor: "#A6A6A6", borderWidth: 5.5 }] },
  options: { layout: { padding: 0 }, scales: { x: { display: false, min: -1, max: 1 }, y: { display: false, min: -1, max: 1 } } }
});
addText("Non-significant  correlations", 887.7, 940.7, 19, { left: true });
addText("(P_value > 0.05)", 887.7, 965, 19.5, { left: true });

// side strips
[["Specifically correlated with", "the pro-remodeling subtype", 993.3, 253.4, "#4BC3CE"],
 ["Specifically correlated with the pro-inflammatory", "subtype", 1248.3, 422.7, "#F58C87"]].forEach(s => {
  const d = document.createElement("div");
  d.className = "strip";
  d.style.top = s[2] + "px";
  d.style.height = s[3] + "px";
  d.style.background = s[4];
  d.innerHTML = "<div>" + s[0] + "<br>" + s[1] + "</div>";
  document.body.appendChild(d);
});
</script>
</body>
</html>
